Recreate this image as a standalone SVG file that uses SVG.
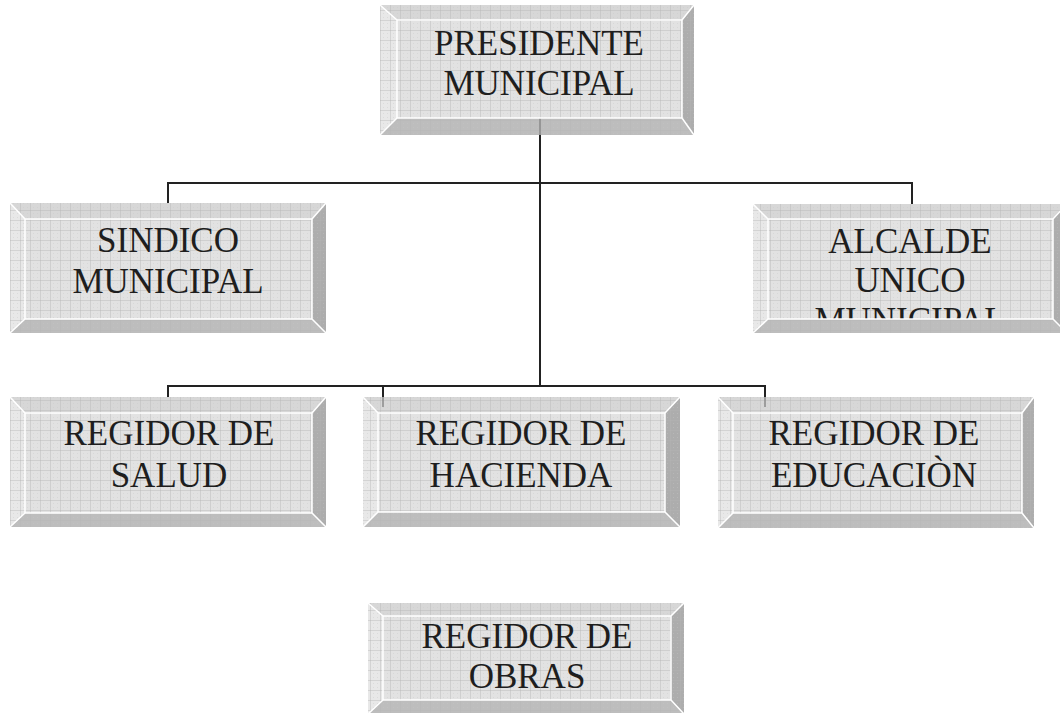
<svg xmlns="http://www.w3.org/2000/svg" width="1060" height="713" viewBox="0 0 1060 713">
<defs>
<pattern id="grid" width="10" height="10" patternUnits="userSpaceOnUse">
<rect width="10" height="10" fill="none"/>
<path d="M0 0.5H10M0.5 0V10" stroke="#b4b4b4" stroke-opacity="0.42" stroke-width="1"/>
<path d="M3 3h1v1h-1zM7 7h1v1h-1zM7 3h1v1h-1zM3 7h1v1h-1z" fill="#c8c8c8" fill-opacity="0.4"/>
</pattern>
<clipPath id="clipAlc"><rect x="768" y="219" width="285" height="100"/></clipPath>
</defs>
<style>
.face{fill:#e2e2e2}
.top{fill:#d7d7d7}
.left{fill:#e8e8e8}
.right{fill:#adadad}
.bottom{fill:#bdbdbd}
.grid{fill:url(#grid)}
.hl{fill:none;stroke:#ffffff;stroke-width:1.5}
.t{font-family:"Liberation Serif","Times New Roman",serif;font-size:35px;fill:#1e1e1e;text-anchor:middle}
.con{fill:none;stroke:#222;stroke-width:2}
.conl{fill:none;stroke:#8a8a8a;stroke-width:1.5}
</style>

<g id="connectors">
<path class="con" d="M540 135V386"/>
<path class="con" d="M168 203V183H912V204"/>
<path class="con" d="M168 397V386H765V397"/>
<path class="con" d="M383 386V397"/>
<path class="conl" d="M540 118V135M383 397V407M765 397V407"/>
</g>

<g id="presidente">
<rect class="face" x="397" y="20" width="285" height="98"/>
<polygon class="top" points="380,5 694,5 682,20 397,20"/>
<polygon class="left" points="380,5 397,20 397,118 380,135"/>
<polygon class="right" points="694,5 694,135 682,118 682,20"/>
<polygon class="bottom" points="380,135 397,118 682,118 694,135"/>
<rect class="grid" x="380" y="5" width="314" height="130"/>
<path class="conl" d="M540 118V135"/>
<rect class="hl" x="397" y="20" width="285" height="98"/>
<path class="hl" d="M380 5L397 20M694 5L682 20M380 135L397 118M694 135L682 118"/>
<text class="t" x="539" y="55">PRESIDENTE</text>
<text class="t" x="539" y="95">MUNICIPAL</text>
</g>

<g id="sindico">
<rect class="face" x="25" y="219" width="287" height="100"/>
<polygon class="top" points="10,203 326,203 312,219 25,219"/>
<polygon class="left" points="10,203 25,219 25,319 10,333"/>
<polygon class="right" points="326,203 326,333 312,319 312,219"/>
<polygon class="bottom" points="10,333 25,319 312,319 326,333"/>
<rect class="grid" x="10" y="203" width="316" height="130"/>
<rect class="hl" x="25" y="219" width="287" height="100"/>
<path class="hl" d="M10 203L25 219M326 203L312 219M10 333L25 319M326 333L312 319"/>
<text class="t" x="168" y="252">SINDICO</text>
<text class="t" x="168" y="293">MUNICIPAL</text>
</g>

<g id="alcalde">
<rect class="face" x="768" y="219" width="285" height="100"/>
<g clip-path="url(#clipAlc)">
<rect class="grid" x="768" y="219" width="285" height="100"/>
<text class="t" x="910" y="253">ALCALDE</text>
<text class="t" x="910" y="292">UNICO</text>
<text class="t" x="910" y="332">MUNICIPAL</text>
</g>
<polygon class="top" points="753,204 1067,204 1053,219 768,219"/>
<polygon class="left" points="753,204 768,219 768,319 753,333"/>
<polygon class="right" points="1067,204 1067,333 1053,319 1053,219"/>
<polygon class="bottom" points="753,333 768,319 1053,319 1067,333"/>
<path class="grid" d="M753 204H1067L1053 219H768ZM753 204L768 219V319L753 333ZM1067 204V333L1053 319V219ZM753 333L768 319H1053L1067 333Z"/>
<rect class="hl" x="768" y="219" width="285" height="100"/>
<path class="hl" d="M753 204L768 219M753 333L768 319M1067 204L1053 219M1067 333L1053 319"/>
</g>

<g id="salud">
<rect class="face" x="25" y="413" width="287" height="100"/>
<polygon class="top" points="10,397 326,397 312,413 25,413"/>
<polygon class="left" points="10,397 25,413 25,513 10,527"/>
<polygon class="right" points="326,397 326,527 312,513 312,413"/>
<polygon class="bottom" points="10,527 25,513 312,513 326,527"/>
<rect class="grid" x="10" y="397" width="316" height="130"/>
<rect class="hl" x="25" y="413" width="287" height="100"/>
<path class="hl" d="M10 397L25 413M326 397L312 413M10 527L25 513M326 527L312 513"/>
<text class="t" x="169" y="445">REGIDOR DE</text>
<text class="t" x="169" y="487">SALUD</text>
</g>

<g id="hacienda">
<rect class="face" x="378" y="413" width="287" height="99"/>
<polygon class="top" points="363,397 680,397 665,413 378,413"/>
<polygon class="left" points="363,397 378,413 378,512 363,527"/>
<polygon class="right" points="680,397 680,527 665,512 665,413"/>
<polygon class="bottom" points="363,527 378,512 665,512 680,527"/>
<rect class="grid" x="363" y="397" width="317" height="130"/>
<path class="conl" d="M383 397V407"/>
<rect class="hl" x="378" y="413" width="287" height="99"/>
<path class="hl" d="M363 397L378 413M680 397L665 413M363 527L378 512M680 527L665 512"/>
<text class="t" x="521" y="445">REGIDOR DE</text>
<text class="t" x="521" y="487">HACIENDA</text>
</g>

<g id="educacion">
<rect class="face" x="733" y="413" width="289" height="100"/>
<polygon class="top" points="718,397 1034,397 1022,413 733,413"/>
<polygon class="left" points="718,397 733,413 733,513 718,528"/>
<polygon class="right" points="1034,397 1034,528 1022,513 1022,413"/>
<polygon class="bottom" points="718,528 733,513 1022,513 1034,528"/>
<rect class="grid" x="718" y="397" width="316" height="131"/>
<path class="conl" d="M765 397V407"/>
<rect class="hl" x="733" y="413" width="289" height="100"/>
<path class="hl" d="M718 397L733 413M1034 397L1022 413M718 528L733 513M1034 528L1022 513"/>
<text class="t" x="874" y="445">REGIDOR DE</text>
<text class="t" x="874" y="487">EDUCACIÒN</text>
</g>

<g id="obras">
<rect class="face" x="383" y="616" width="288" height="84"/>
<polygon class="top" points="368,603 684,603 671,616 383,616"/>
<polygon class="left" points="368,603 383,616 383,700 368,714"/>
<polygon class="right" points="684,603 684,714 671,700 671,616"/>
<polygon class="bottom" points="368,714 383,700 671,700 684,714"/>
<rect class="grid" x="368" y="603" width="316" height="111"/>
<rect class="hl" x="383" y="616" width="288" height="84"/>
<path class="hl" d="M368 603L383 616M684 603L671 616M368 714L383 700M684 714L671 700"/>
<text class="t" x="527" y="648">REGIDOR DE</text>
<text class="t" x="527" y="688">OBRAS</text>
</g>
</svg>
